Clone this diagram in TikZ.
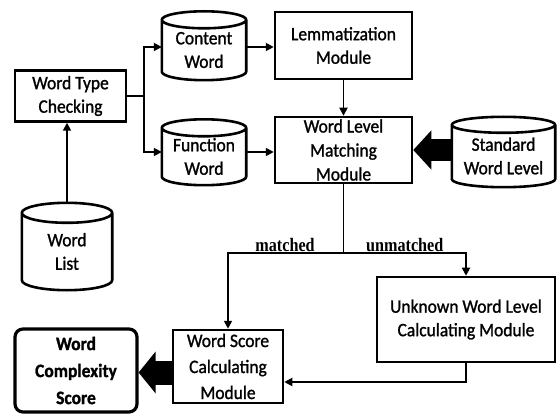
\documentclass[tikz,border=0pt]{standalone}
\usepackage{fontspec}
\setmainfont{Carlito}[FakeStretch=0.92, FakeBold=1.2]
\newfontfamily\lblfont{Liberation Serif}[FakeStretch=0.85]
\usetikzlibrary{arrows.meta,calc}

\begin{document}
\begin{tikzpicture}[x=1pt,y=-1pt,
  every node/.style={font=\fontsize{19}{23.5}\selectfont, align=center, inner sep=0pt},
  box/.style={draw, line width=2.5pt},
  cylline/.style={line width=2.6pt, line join=round},
  line/.style={line width=1.7pt},
  arr/.style={line width=1.7pt, -{Triangle[length=8pt,width=8pt]}},
  fat/.style={line width=22pt, -{Triangle[length=18pt,width=38pt]}},
  lbl/.style={font=\lblfont\bfseries\fontsize{19}{22}\selectfont, above=1pt}]
\useasboundingbox (0,0) rectangle (557,414);

% process boxes
\node[box, minimum width=111pt, minimum height=51pt] (wtc) at (70.5,96) {Word Type\\Checking};
\node[box, minimum width=137pt, minimum height=67pt] (lem) at (343.5,45.5) {Lemmatization\\Module};
\node[box, minimum width=137pt, minimum height=66pt, font=\fontsize{19}{24}\selectfont] (wlm) at (343.5,150) {Word Level\\Matching\\Module};
\node[box, minimum width=110pt, minimum height=73pt, font=\fontsize{19}{26}\selectfont] (ws) at (228,366.5) {Word Score\\Calculating\\Module};
\node[box, minimum width=178pt, minimum height=85pt] (unk) at (466,319.5) {Unknown Word Level\\Calculating Module};
\node[draw, line width=3.2pt, rounded corners=8pt, minimum width=122pt, minimum height=83pt,
      font=\fontsize{19}{27}\selectfont\bfseries] (cx) at (76,370.5) {Word\\Complexity\\Score};

% data stores (body of each cylinder)
\node[minimum width=84pt, minimum height=60pt] (cw) at (204,50) {Content\\Word};
\node[minimum width=84pt, minimum height=57pt] (fw) at (204,156.5) {Function\\Word};
\node[minimum width=90pt, minimum height=77pt] (wl) at (67,251.5) {Word\\List};
\node[minimum width=103pt, minimum height=62pt] (sw) at (503.5,156) {Standard\\Word Level};

% cylinder outlines around the store nodes
\foreach \c/\r in {cw/8.5,fw/8.5,wl/10,sw/8}{
  \draw[cylline] let \p1=(\c.north west), \p2=(\c.south east), \n1={0.5*(\x2-\x1)} in
    (\x1,\y1) -- (\x1,{\y2+\r*1pt})
    arc[start angle=180, end angle=360, x radius=\n1, y radius=\r pt]
    -- (\x2,\y1)
    arc[start angle=0, end angle=180, x radius=\n1, y radius=\r pt]
    arc[start angle=180, end angle=360, x radius=\n1, y radius=\r pt];
}

% word list feeds the type check
\coordinate (wltop) at ($(wl.north)+(0,-10)$);
\draw[arr] (wltop) -- (wltop |- wtc.south);

% split into content and function words
\coordinate (split) at ($(wtc.east)+(17,0)$);
\coordinate (cwin) at ([yshift=3pt]cw.west);
\coordinate (fwin) at ([yshift=4.5pt]fw.west);
\draw[line] (wtc.east) -- (split);
\draw[arr] (split) |- (cwin);
\draw[arr] (split) |- (fwin);

\coordinate (cwout) at ([yshift=3pt]cw.east);
\coordinate (fwout) at ([yshift=4.5pt]fw.east);
\draw[arr] (cwout) -- (cwout -| lem.west);
\draw[arr] (fwout) -- (fwout -| wlm.west);
\draw[arr] (lem.south) -- (wlm.north);

% standard word level into the matcher
\draw[fat] (sw.west |- wlm.east) -- (wlm.east);

% matched / unmatched branches
\coordinate (br) at ($(wlm.south)+(0,69)$);
\draw[line] (wlm.south) -- (br);
\draw[arr] (br) -| (ws.north) node[lbl, pos=0.253] {matched};
\draw[arr] (br) -| (unk.north) node[lbl, pos=0.25] {unmatched};

\coordinate (wsin) at ([yshift=-15.5pt]ws.east);
\draw[arr] (unk.south) |- (wsin);

% final score
\coordinate (wsout) at ([yshift=-6pt]ws.west);
\draw[fat, line width=24pt, -{Triangle[length=17pt,width=41pt]}] (wsout) -- (wsout -| cx.east);
\end{tikzpicture}
\end{document}
